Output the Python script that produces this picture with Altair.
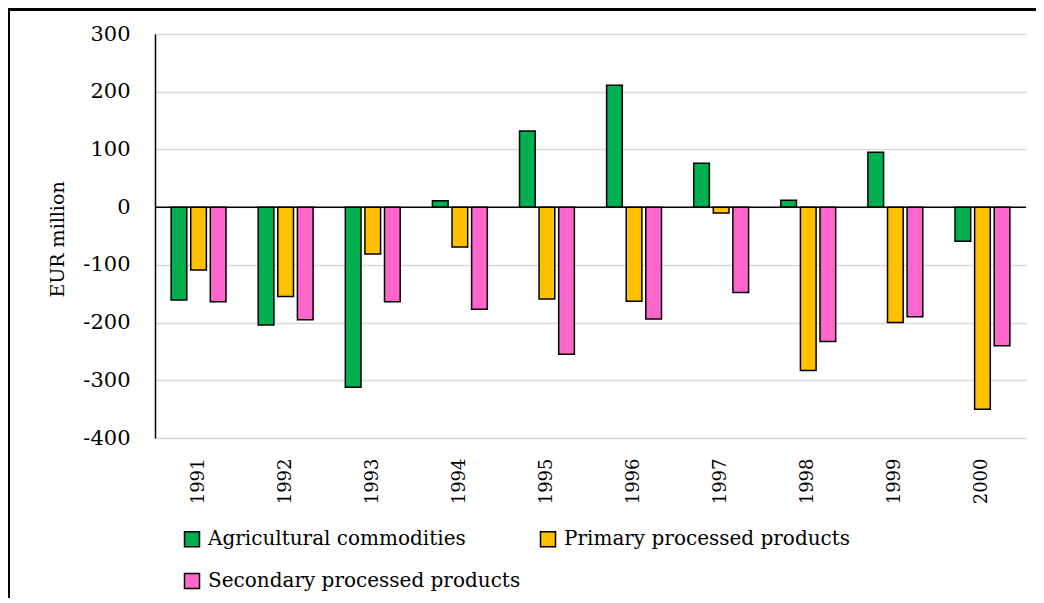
import altair as alt
import pandas as pd

years = ["1991", "1992", "1993", "1994", "1995", "1996", "1997", "1998", "1999", "2000"]
series = ["Agricultural commodities", "Primary processed products", "Secondary processed products"]
agricultural = [-161, -204, -312, 11, 132, 211, 76, 12, 95, -59]
primary = [-109, -155, -81, -69, -159, -163, -10, -283, -200, -350]
secondary = [-164, -195, -164, -177, -255, -194, -148, -233, -190, -240]
colors = ["#00B050", "#FFC000", "#FF66CC"]
y_ticks = [-400, -300, -200, -100, 0, 100, 200, 300]

rows = []
for name, vals in zip(series, [agricultural, primary, secondary]):
    for yr, v in zip(years, vals):
        rows.append({"year": yr, "series": name, "value": v})
df = pd.DataFrame(rows)

W, H = 871, 404
PL, PT, PR, PB = 147, 26, 10, 160
FONT = "DejaVu Serif"

bars = alt.Chart(df).mark_bar(stroke="black", strokeWidth=1.5).encode(
    x=alt.X("year:N", sort=years,
            scale=alt.Scale(paddingInner=0.37, paddingOuter=0.185),
            axis=alt.Axis(title=None, labelAngle=270, labelPadding=20, ticks=False,
                          domain=False, grid=False, labelFontSize=18,
                          labelColor="black")),
    xOffset=alt.XOffset("series:N", sort=series,
                        scale=alt.Scale(paddingInner=0.2, paddingOuter=0)),
    y=alt.Y("value:Q",
            scale=alt.Scale(domain=[-400, 300], nice=False),
            axis=alt.Axis(title="EUR million", values=y_ticks, ticks=False,
                          labelExpr="'' + datum.value",
                          labelPadding=25, labelFontSize=21,
                          labelColor="black", domainColor="black", domainWidth=1.5,
                          gridColor="#d9d9d9", gridWidth=1.5,
                          titleFontSize=19, titleFontWeight="normal",
                          titleColor="black", titleX=-98, titleY=H / 2 + 3,
                          titleBaseline="middle", titleAngle=270)),
    color=alt.Color("series:N", sort=series,
                    scale=alt.Scale(domain=series, range=colors),
                    legend=alt.Legend(title=None, orient="none", legendX=27, legendY=495,
                                      direction="horizontal", columns=2,
                                      columnPadding=16, rowPadding=20,
                                      symbolType="square", symbolSize=225,
                                      symbolStrokeColor="black", symbolStrokeWidth=1.5,
                                      labelFontSize=20, labelColor="black",
                                      labelLimit=600, labelOffset=6)),
)

zero = alt.Chart(pd.DataFrame({"v": [0]})).mark_rule(color="black", strokeWidth=1.5).encode(
    y=alt.Y("v:Q")
)

frame_top = alt.Chart(pd.DataFrame({"v": [0]})).mark_rule(color="black", strokeWidth=3).encode(
    x=alt.value(-PL), x2=alt.value(W + PR), y=alt.value(-PT + 1.5)
)
frame_left = alt.Chart(pd.DataFrame({"v": [0]})).mark_rule(color="black", strokeWidth=2).encode(
    x=alt.value(-PL + 1), y=alt.value(-PT + 3), y2=alt.value(H + PB)
)

chart = alt.layer(bars, zero, frame_top, frame_left).properties(
    width=W, height=H,
    autosize=alt.AutoSizeParams(type="none"),
    padding={"left": PL, "top": PT, "right": PR, "bottom": PB},
).configure(font=FONT).configure_axis(labelFont=FONT, titleFont=FONT).configure_legend(
    labelFont=FONT
).configure_view(stroke=None)

chart.save("out.html", embed_options={"renderer": "svg", "actions": False})
